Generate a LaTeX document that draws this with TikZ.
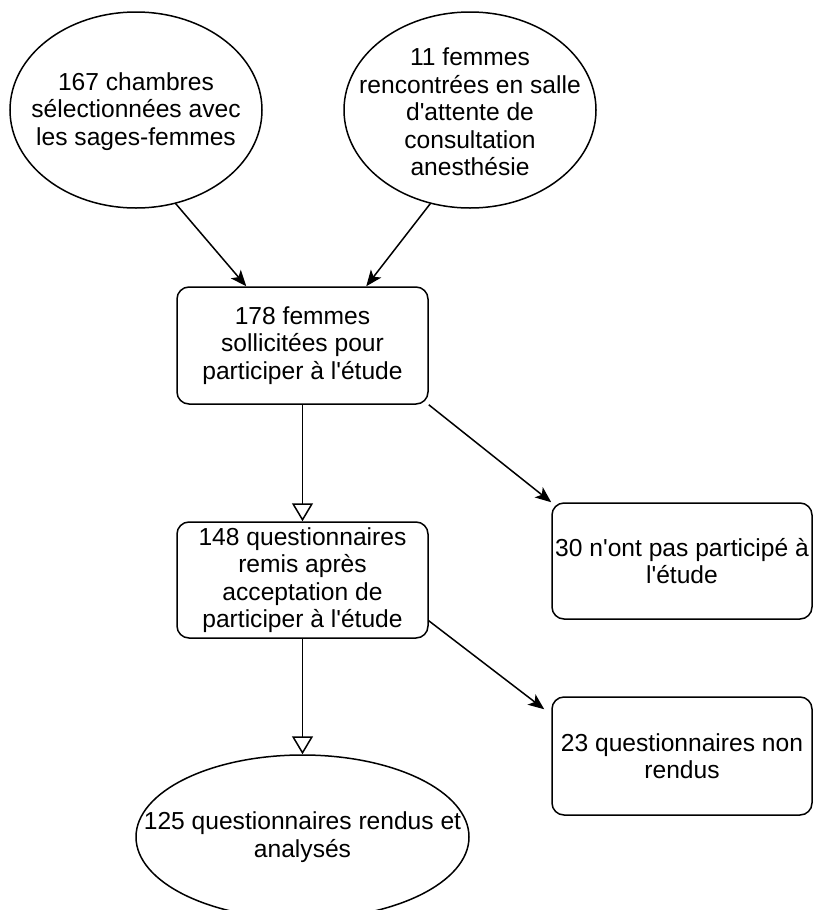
\documentclass[tikz,border=0pt]{standalone}
\usepackage{fontspec}
\setmainfont{Liberation Sans}[Ligatures=TeXOff]
\usetikzlibrary{shapes.geometric,arrows.meta}
\begin{document}
\begin{tikzpicture}[x=1pt,y=-1pt,
  every node/.style={font=\fontsize{24.6}{27.5}\selectfont, align=center, text=black},
  oval/.style={ellipse, draw, line width=1.5pt, inner sep=0pt},
  rbox/.style={draw, rounded corners=12pt, line width=1.5pt, inner sep=0pt},
  txt/.style={inner sep=0pt},
  filledarrow/.style={-{Stealth[length=16pt,width=13pt,inset=4pt]}, line width=1.5pt},
  openarrow/.style={-{Triangle[open,length=18pt,width=21pt,fill=white]}, line width=1.5pt}]
\useasboundingbox (0,0) rectangle (813,910);
\fill[white] (0,0) rectangle (813,910);
\node[oval, minimum width=252pt, minimum height=196pt] (c1) at (136,110) {};
\node[txt] (c1t) at ([yshift=-1.5pt]c1.center) {167 chambres\\sélectionnées avec\\les sages-femmes};
\node[oval, minimum width=252pt, minimum height=196pt] (c2) at (470,110) {};
\node[txt] (c2t) at ([yshift=-2pt]c2.center) {11 femmes\\rencontrées en salle\\d'attente de\\consultation\\anesthésie};
\node[rbox, minimum width=251pt, minimum height=117pt] (b1) at (302.5,345.5) {178 femmes\\sollicitées pour\\participer à l'étude};
\node[rbox, minimum width=251pt, minimum height=116pt] (b2) at (302.5,580) {148 questionnaires\\remis après\\acceptation de\\participer à l'étude};
\node[rbox, minimum width=260pt, minimum height=116pt] (b30) at (682,561) {30 n'ont pas participé à\\l'étude};
\node[rbox, minimum width=260pt, minimum height=118pt] (b23) at (682,756) {23 questionnaires non\\rendus};
\node[oval, minimum width=333pt, minimum height=164pt] (e3) at (302.5,837) {};
\node[txt] (e3t) at (e3.center) {125 questionnaires rendus et\\analysés};
\draw[filledarrow] (c1.-67) -- ([xshift=70pt]b1.north west);
\draw[filledarrow] (c2.-113) -- ([xshift=190pt]b1.north west);
\draw[filledarrow] (b1.south east) -- (b30.north west);
\draw[filledarrow] ([yshift=18pt]b2.south east) -- ([shift={(-7,13)}]b23.north west);
\draw[openarrow] (b1.south) -- (b2.north);
\draw[openarrow] (b2.south) -- (e3.north);
\end{tikzpicture}
\end{document}
